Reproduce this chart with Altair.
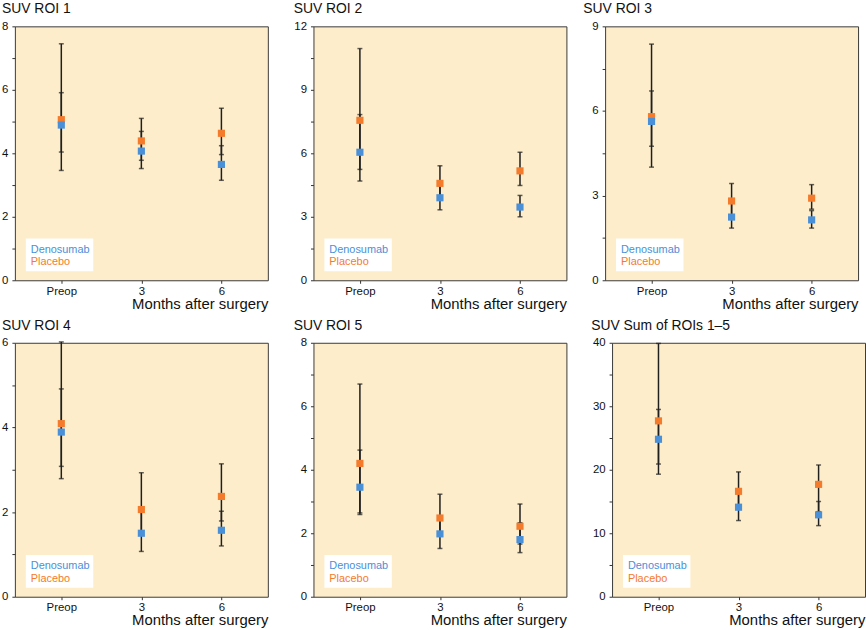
import altair as alt
import pandas as pd

# ---------------- data ----------------
times = ["Preop", "3", "6"]
groups = ["Denosumab", "Placebo"]
colors = ["#4A90D9", "#F47B2C"]
panel_titles = ["SUV ROI 1", "SUV ROI 2", "SUV ROI 3",
                "SUV ROI 4", "SUV ROI 5", "SUV Sum of ROIs 1–5"]
x_title = "Months after surgery"

roi1_den_mean = [4.89, 4.07, 3.65]
roi1_den_lo = [4.04, 3.52, 3.15]
roi1_den_hi = [5.91, 4.69, 4.24]
roi1_pl_mean = [5.06, 4.39, 4.63]
roi1_pl_lo = [3.46, 3.78, 3.96]
roi1_pl_hi = [7.45, 5.10, 5.42]

roi2_den_mean = [6.05, 3.90, 3.46]
roi2_den_lo = [4.69, 3.33, 3.00]
roi2_den_hi = [7.83, 4.55, 4.01]
roi2_pl_mean = [7.56, 4.58, 5.17]
roi2_pl_lo = [5.24, 3.88, 4.48]
roi2_pl_hi = [10.95, 5.41, 6.05]

roi3_den_mean = [5.63, 2.24, 2.14]
roi3_den_lo = [4.75, 1.85, 1.85]
roi3_den_hi = [6.71, 2.78, 2.47]
roi3_pl_mean = [5.80, 2.81, 2.91]
roi3_pl_lo = [4.01, 2.26, 2.52]
roi3_pl_hi = [8.37, 3.43, 3.39]

roi4_den_mean = [3.89, 1.50, 1.57]
roi4_den_lo = [3.08, 1.07, 1.20]
roi4_den_hi = [4.91, 2.04, 2.02]
roi4_pl_mean = [4.09, 2.06, 2.37]
roi4_pl_lo = [2.79, 1.52, 1.79]
roi4_pl_hi = [6.02, 2.93, 3.14]

roi5_den_mean = [3.45, 1.98, 1.80]
roi5_den_lo = [2.64, 1.52, 1.39]
roi5_den_hi = [4.62, 2.46, 2.33]
roi5_pl_mean = [4.20, 2.48, 2.22]
roi5_pl_lo = [2.59, 2.00, 1.66]
roi5_pl_hi = [6.70, 3.23, 2.92]

sum_den_mean = [24.8, 14.1, 12.9]
sum_den_lo = [20.9, 12.0, 11.2]
sum_den_hi = [29.5, 16.5, 15.0]
sum_pl_mean = [27.7, 16.6, 17.7]
sum_pl_lo = [19.3, 14.2, 13.4]
sum_pl_hi = [39.9, 19.66, 20.75]

y_max = [8, 12, 9, 6, 8, 40]
tick_step = [1, 1.5, 1.5, 1, 1, 5]
label_step = [2, 3, 3, 2, 2, 10]

# ---------------- layout/style ----------------
PW, PH = 255, 256
min_extent = [14, 29, 22, 14, 29, 29]
title_dx = [-13, -20, -22, -13, -20, -21]
BAR = "#1f1f1f"

color_scale = alt.Scale(domain=groups, range=colors)


def panel(i, dm, dl, dh, pm, pl, ph):
    df = pd.DataFrame({
        "time": times + times,
        "group": [groups[1]] * 3 + [groups[0]] * 3,
        "mean": pm + dm,
        "lo": pl + dl,
        "hi": ph + dh,
    })
    n = int(round(y_max[i] / tick_step[i]))
    ticks = [round(k * tick_step[i], 3) for k in range(n + 1)]
    yscale = alt.Scale(domain=[0, y_max[i]], nice=False, zero=True)
    yaxis = alt.Axis(values=ticks, title=None, grid=False, domain=False,
                     minExtent=min_extent[i],
                     labelExpr=f"datum.value % {label_step[i]} == 0 ? datum.label : ''")
    x = alt.X("time:N", sort=times,
              scale=alt.Scale(type="point", padding=0.58),
              axis=alt.Axis(title=x_title, labelAngle=0, grid=False, domain=False))
    base = alt.Chart(df)
    rules = base.mark_rule(color=BAR, strokeWidth=1.5).encode(
        x=x, y=alt.Y("lo:Q", scale=yscale, axis=yaxis), y2="hi:Q")
    cap_lo = base.mark_tick(color=BAR, size=5, thickness=1.5).encode(
        x=x, y=alt.Y("lo:Q", scale=yscale, axis=yaxis))
    cap_hi = base.mark_tick(color=BAR, size=5, thickness=1.5).encode(
        x=x, y=alt.Y("hi:Q", scale=yscale, axis=yaxis))
    pts = base.mark_square(size=52, opacity=1).encode(
        x=x, y=alt.Y("mean:Q", scale=yscale, axis=yaxis),
        color=alt.Color("group:N", scale=color_scale, legend=None))

    leg_df = pd.DataFrame({"group": groups})
    box = alt.Chart(leg_df).transform_filter(
        alt.datum.group == groups[0]).mark_rect(fill="white").encode(
        x=alt.value(11), x2=alt.value(79), y=alt.value(214), y2=alt.value(247))
    texts = []
    for k, g in enumerate(groups):
        texts.append(
            alt.Chart(leg_df).transform_filter(alt.datum.group == g)
            .mark_text(align="left", baseline="alphabetic", fontSize=11)
            .encode(text="group:N", x=alt.value(16), y=alt.value(228 + 13 * k),
                    color=alt.Color("group:N", scale=color_scale, legend=None))
        )
    return alt.layer(rules, cap_lo, cap_hi, pts, box, *texts).properties(
        width=PW, height=PH,
        title=alt.TitleParams(panel_titles[i], anchor="start", frame="group",
                              dx=title_dx[i], offset=-7, baseline="alphabetic",
                              fontSize=14, fontWeight="normal", color="#111"))


p = [
    panel(0, roi1_den_mean, roi1_den_lo, roi1_den_hi, roi1_pl_mean, roi1_pl_lo, roi1_pl_hi),
    panel(1, roi2_den_mean, roi2_den_lo, roi2_den_hi, roi2_pl_mean, roi2_pl_lo, roi2_pl_hi),
    panel(2, roi3_den_mean, roi3_den_lo, roi3_den_hi, roi3_pl_mean, roi3_pl_lo, roi3_pl_hi),
    panel(3, roi4_den_mean, roi4_den_lo, roi4_den_hi, roi4_pl_mean, roi4_pl_lo, roi4_pl_hi),
    panel(4, roi5_den_mean, roi5_den_lo, roi5_den_hi, roi5_pl_mean, roi5_pl_lo, roi5_pl_hi),
    panel(5, sum_den_mean, sum_den_lo, sum_den_hi, sum_pl_mean, sum_pl_lo, sum_pl_hi),
]

row1 = alt.hconcat(p[0], p[1], p[2], spacing=15)
row2 = alt.hconcat(p[3], p[4], p[5], spacing=15)

chart = alt.vconcat(row1, row2, spacing=6).properties(
    padding={"left": 0, "top": -1, "right": 0, "bottom": 0},
    background="white",
).configure(font="Liberation Sans").configure_view(
    fill="#FDEDCA", stroke="#3a3a3a", strokeWidth=1
).configure_axis(
    labelFontSize=11.5, labelColor="#111", tickColor="#333", tickSize=3,
    labelPadding=4, titleFontSize=15, titleFontWeight="normal", titleColor="#111",
).configure_axisX(
    titleAnchor="end", titleAlign="right", titlePadding=0, labelPadding=2
)

chart.save("out.html", embed_options={"renderer": "svg", "actions": False})
